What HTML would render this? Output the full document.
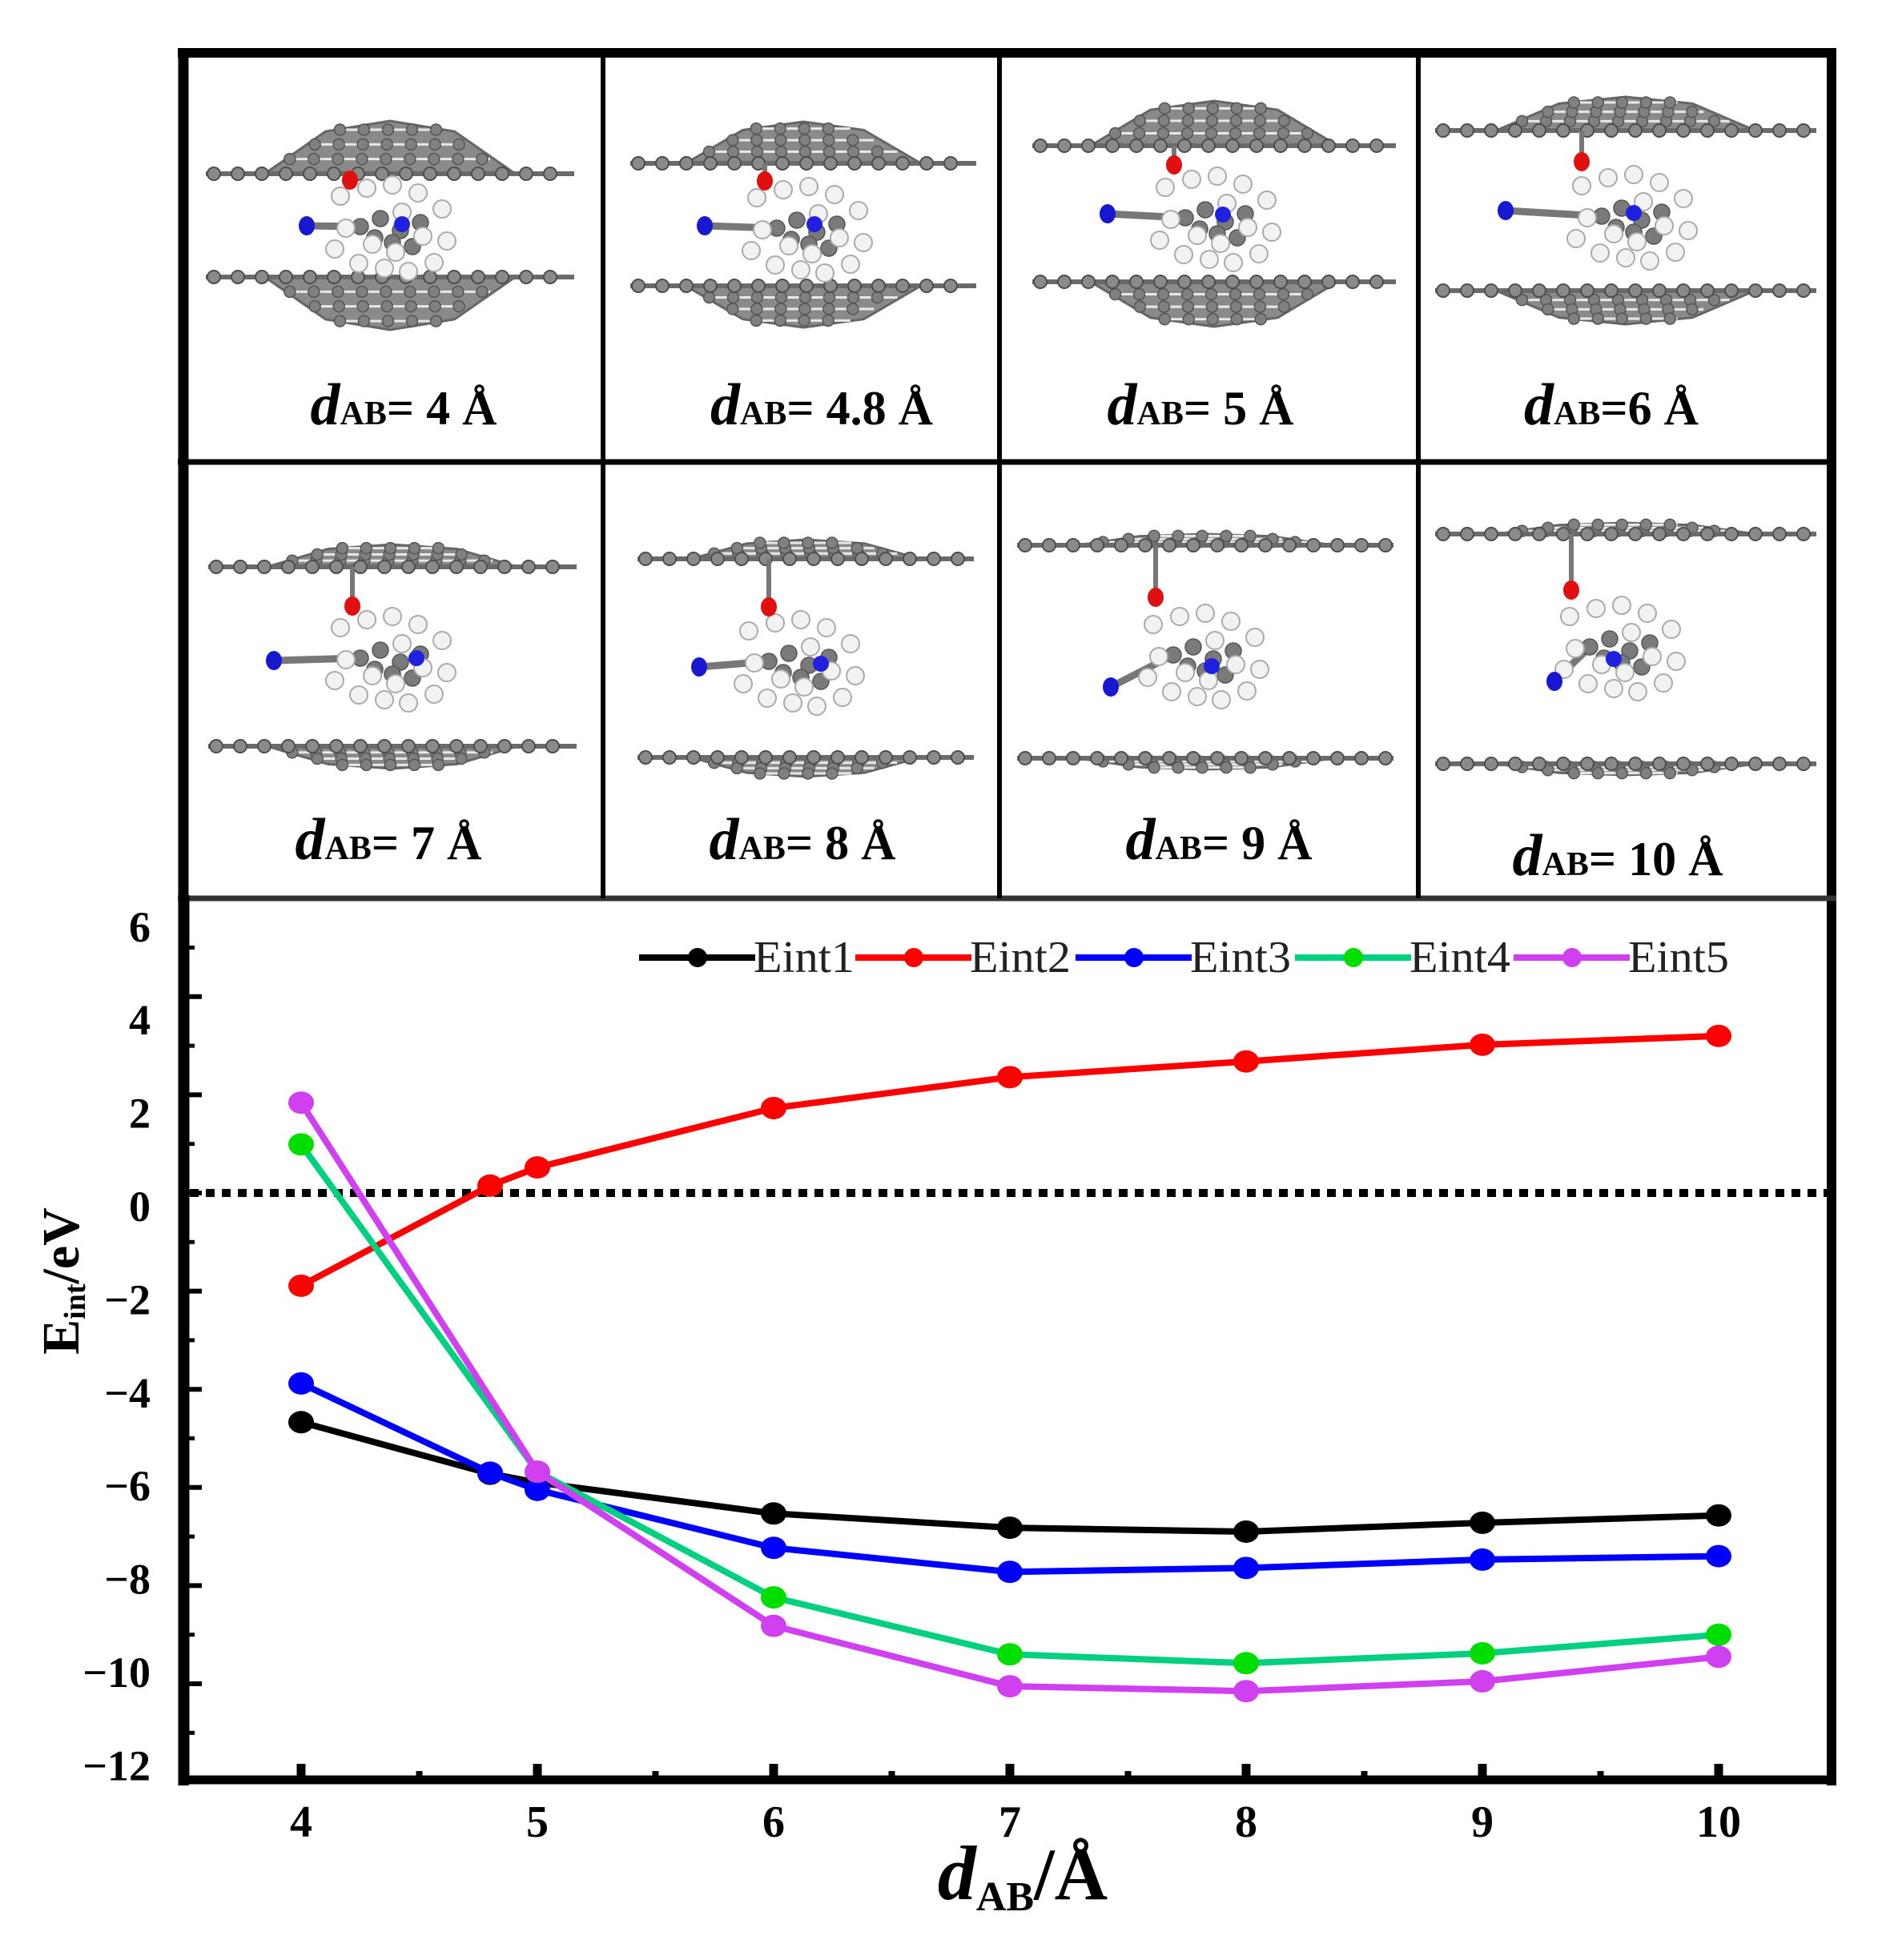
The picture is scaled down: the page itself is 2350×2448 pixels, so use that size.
<!DOCTYPE html>
<html><head><meta charset="utf-8">
<style>
html,body{margin:0;padding:0;background:#fff;}
svg{display:block;}
text{font-family:"Liberation Serif",serif;}
</style></head>
<body>
<svg id="root" width="2350" height="2448" viewBox="0 0 2350 2448" xmlns="http://www.w3.org/2000/svg">
  <rect x="0" y="0" width="2350" height="2448" fill="#fff"/>
  <g id="cells"></g>
  <g id="frame">
    <line x1="222" y1="66" x2="2293" y2="66" stroke="#000" stroke-width="12"/>
    <line x1="229" y1="60" x2="229" y2="2230" stroke="#000" stroke-width="13"/>
    <line x1="2287" y1="60" x2="2287" y2="2230" stroke="#000" stroke-width="12"/>
    <line x1="222" y1="577" x2="2293" y2="577" stroke="#000" stroke-width="7"/>
    <line x1="222" y1="1122" x2="2293" y2="1122" stroke="#333" stroke-width="7"/>
    <line x1="753" y1="66" x2="753" y2="1122" stroke="#000" stroke-width="6"/>
    <line x1="1248" y1="66" x2="1248" y2="1122" stroke="#000" stroke-width="6"/>
    <line x1="1771" y1="66" x2="1771" y2="1122" stroke="#000" stroke-width="6"/>
  </g>
  <g id="chart"></g>
</svg>
<script>
// ---------- chart data ----------
const xTicks = [4,5,6,7,8,9,10];
const yTicks = [6,4,2,0,-2,-4,-6,-8,-10,-12];
const seriesNames = ["Eint1","Eint2","Eint3","Eint4","Eint5"];
const seriesColors = ["#000000","#ff0000","#0000ff","#00d080","#d040f0"];
const markerColors = ["#000000","#ff0000","#0000ff","#00dd00","#d040f0"];
const xEint1 = [4,4.8,5,6,7,8,9,10];
const yEint1 = [-4.67,-5.72,-5.9,-6.53,-6.82,-6.9,-6.72,-6.57];
const xEint2 = [4,4.8,5,6,7,8,9,10];
const yEint2 = [-1.89,0.15,0.52,1.73,2.36,2.68,3.02,3.2];
const xEint3 = [4,4.8,5,6,7,8,9,10];
const yEint3 = [-3.88,-5.7,-6.05,-7.23,-7.72,-7.64,-7.47,-7.4];
const xEint4 = [4,5,6,7,8,9,10];
const yEint4 = [0.99,-5.68,-8.24,-9.4,-9.58,-9.38,-9.0];
const xEint5 = [4,5,6,7,8,9,10];
const yEint5 = [1.84,-5.68,-8.82,-10.05,-10.15,-9.95,-9.45];
const xs = [xEint1,xEint2,xEint3,xEint4,xEint5];
const ys = [yEint1,yEint2,yEint3,yEint4,yEint5];

const NS="http://www.w3.org/2000/svg";
function mk(tag, attrs, parent){const e=document.createElementNS(NS,tag);for(const k in attrs)e.setAttribute(k,attrs[k]);if(parent)parent.appendChild(e);return e;}
const X0=376, XU=295;
const Y0=1490, YU=61.3;
function sx(v){return X0+(v-4)*XU;}
function sy(v){return Y0-v*YU;}
function labelY(v){return 1507-v*58.2;}

const chart=document.getElementById('chart');
let ax=mk('line',{x1:230,y1:1118,x2:230,y2:2229,stroke:'#000','stroke-width':13},chart);

ax=mk('line',{x1:224,y1:2223,x2:2293,y2:2223,stroke:'#000','stroke-width':11},chart);

let zl=mk('line',{x1:237,y1:sy(0),x2:2281,y2:sy(0),stroke:'#000','stroke-width':10,'stroke-dasharray':'11 9'},chart);

for(let v=6;v>=-12;v--){
  const major=(v%2===0);
  if(v===6||v===-12) continue;
  const t=mk('line',{x1:234,y1:sy(v),x2:major?252:243,y2:sy(v),stroke:'#000','stroke-width':major?6:5},chart);
  
}
yTicks.forEach(v=>{
  const t=mk('text',{x:188,y:labelY(v)+18,'text-anchor':'end','font-size':54,'font-weight':'bold',fill:'#000'},chart);
  t.textContent=(v<0?'\u2212'+(-v):String(v));
  
});
for(let v=4;v<=10;v+=0.5){
  const major=Number.isInteger(v);
  const t=mk('line',{x1:sx(v),y1:2218,x2:sx(v),y2:major?2203:2212,stroke:'#000','stroke-width':major?11:8},chart);
  
}
xTicks.forEach(v=>{
  const t=mk('text',{x:sx(v),y:2294,'text-anchor':'middle','font-size':56,'font-weight':'bold',fill:'#000'},chart);
  t.textContent=String(v);
  
});
const xt=mk('text',{x:1277,y:2372,'text-anchor':'middle','font-weight':'bold',fill:'#000','font-size':92},chart);
xt.innerHTML='<tspan font-style="italic" font-size="96">d</tspan><tspan font-size="52" dy="14">AB</tspan><tspan dy="-14">/Å</tspan>';

const yt=mk('text',{x:0,y:0,'text-anchor':'middle','font-weight':'bold',fill:'#000','font-size':66,transform:'translate(98,1600) rotate(-90)'},chart);
yt.innerHTML='E<tspan font-size="38" dy="8">int</tspan><tspan dy="-8">/eV</tspan>';

seriesNames.forEach((name,i)=>{
  const g=mk('g',{},chart);
  
  
  const pts=xs[i].map((x,j)=>sx(x)+','+sy(ys[i][j])).join(' ');
  const pl=mk('polyline',{points:pts,fill:'none',stroke:seriesColors[i],'stroke-width':8,'stroke-linejoin':'round'},g);
  
  xs[i].forEach((x,j)=>{
    const c=mk('ellipse',{cx:sx(x),cy:sy(ys[i][j]),rx:16,ry:14,fill:markerColors[i]},g);
    
  });
});
const lg=mk('g',{},chart);

const legStart=[798,1068,1343,1617,1890];
seriesNames.forEach((name,i)=>{
  const ge=mk('g',{},lg);
  
  const x0=legStart[i];
  const l=mk('line',{x1:x0,y1:1196,x2:x0+145,y2:1196,stroke:seriesColors[i],'stroke-width':8},ge);
  
  const d=mk('circle',{cx:x0+73,cy:1196,r:12,fill:markerColors[i]},ge);
  
  const t=mk('text',{x:x0+143,y:1214,'font-size':56,fill:'#222',textLength:126,lengthAdjust:'spacingAndGlyphs'},ge);
  t.textContent=name;
  
});

// ---------- structure panels (illustration) ----------
const cells=document.getElementById('cells');
const panels=[
 {cx:487,top:217,bot:346,hw:230,dome:66,mx:480,my:283,ox:437,oy:225,bx:383,by:282,nx:502,ny:280,lx:504,ly:530,txt:'= 4 Å'},
 {cx:1003,top:204,bot:357,hw:216,dome:52,mx:1000,my:285,ox:955,oy:226,bx:880,by:282,nx:1017,ny:280,lx:1026,ly:530,txt:'= 4.8 Å'},
 {cx:1516,top:182,bot:352,hw:227,dome:56,mx:1510,my:272,ox:1466,oy:206,bx:1383,by:267,nx:1527,ny:268,lx:1499,ly:530,txt:'= 5 Å'},
 {cx:2030,top:163,bot:363,hw:238,dome:42,mx:2030,my:270,ox:1975,oy:202,bx:1880,by:263,nx:2040,ny:266,lx:2012,ly:530,txt:'=6 Å'},
 {cx:490,top:708,bot:932,hw:230,dome:28,mx:480,my:822,ox:440,oy:757,bx:342,by:825,nx:520,ny:822,lx:485,ly:1073,txt:'= 7 Å'},
 {cx:1006,top:698,bot:946,hw:210,dome:24,mx:990,my:826,ox:960,oy:758,bx:873,by:833,nx:1025,ny:829,lx:1002,ly:1073,txt:'= 8 Å'},
 {cx:1505,top:681,bot:947,hw:235,dome:14,mx:1495,my:818,ox:1443,oy:746,bx:1387,by:858,nx:1513,ny:832,lx:1522,ly:1073,txt:'= 9 Å'},
 {cx:2030,top:667,bot:954,hw:238,dome:14,mx:2015,my:808,ox:1962,oy:737,bx:1941,by:851,nx:2015,ny:823,lx:2020,ly:1093,txt:'= 10 Å'}
];
const Hoff=[[-55,-38],[-22,-48],[10,-52],[42,-42],[72,-22],[78,18],[62,45],[30,56],[0,52],[-32,46],[-62,28],[-48,2],[-15,22],[22,-18],[48,12],[14,32]];
const Coff=[[-30,0],[-5,-10],[20,5],[45,-5],[10,20],[-12,14],[35,25]];
function sheet(g,cx,y,hw,dome,dir){
  const pts=[[cx-hw*0.68,y],[cx-hw*0.35,y-dir*dome*0.8],[cx,y-dir*dome],[cx+hw*0.35,y-dir*dome*0.8],[cx+hw*0.68,y]].map(p=>p.join(',')).join(' ');
  const poly=mk('polygon',{points:pts,fill:'#8a8a8a',stroke:'#666','stroke-width':3},g);
  
  for(let k=1;k<=3;k++){
    const ry=y-dir*dome*k/3.6, w=hw*0.68*(1-k*0.2);
    const hl=mk('line',{x1:cx-w,y1:ry,x2:cx+w,y2:ry,stroke:'#e8e8e8','stroke-width':3},g);
    
    for(let xx=cx-w;xx<=cx+w+1;xx+=30){
      const c=mk('circle',{cx:xx,cy:ry,r:7,fill:'#808080',stroke:'#555','stroke-width':1.5},g);
      
    }
  }
  const l=mk('line',{x1:cx-hw,y1:y,x2:cx+hw,y2:y,stroke:'#6a6a6a','stroke-width':6},g);
  
  for(let xx=cx-hw+10;xx<=cx+hw-5;xx+=30){
    const c=mk('circle',{cx:xx,cy:y,r:8,fill:'#8a8a8a',stroke:'#4d4d4d','stroke-width':2},g);
    
  }
}
panels.forEach((p,i)=>{
  const g=mk('g',{},cells);
  
  sheet(g,p.cx,p.top,p.hw,p.dome,1);
  sheet(g,p.cx,p.bot,p.hw,p.dome,-1);
  const b1=mk('line',{x1:p.bx,y1:p.by,x2:p.mx-30,y2:p.my,stroke:'#777','stroke-width':9},g);
  
  const b2=mk('line',{x1:p.ox,y1:p.oy,x2:p.ox,y2:p.top,stroke:'#777','stroke-width':6},g);
  
  Coff.forEach(o=>{const c=mk('circle',{cx:p.mx+o[0],cy:p.my+o[1],r:10,fill:'#7a7a7a',stroke:'#555','stroke-width':1.5},g);
    });
  Hoff.forEach(o=>{const c=mk('circle',{cx:p.mx+o[0],cy:p.my+o[1],r:11,fill:'#f2f2f2',stroke:'#aaa','stroke-width':2},g);
    });
  let c=mk('ellipse',{cx:p.ox,cy:p.oy,rx:10,ry:12,fill:'#e01010'},g);
  
  c=mk('ellipse',{cx:p.bx,cy:p.by,rx:10,ry:12,fill:'#1818d0'},g);
  
  c=mk('circle',{cx:p.nx,cy:p.ny,r:10,fill:'#2020e0'},g);
  
  const t=mk('text',{x:p.lx,y:p.ly,'text-anchor':'middle','font-weight':'bold',fill:'#000','font-size':60},g);
  t.innerHTML='<tspan font-style="italic" font-size="74">d</tspan><tspan font-size="42">AB</tspan><tspan>'+p.txt+'</tspan>';
  
});
</script>
</body></html>
